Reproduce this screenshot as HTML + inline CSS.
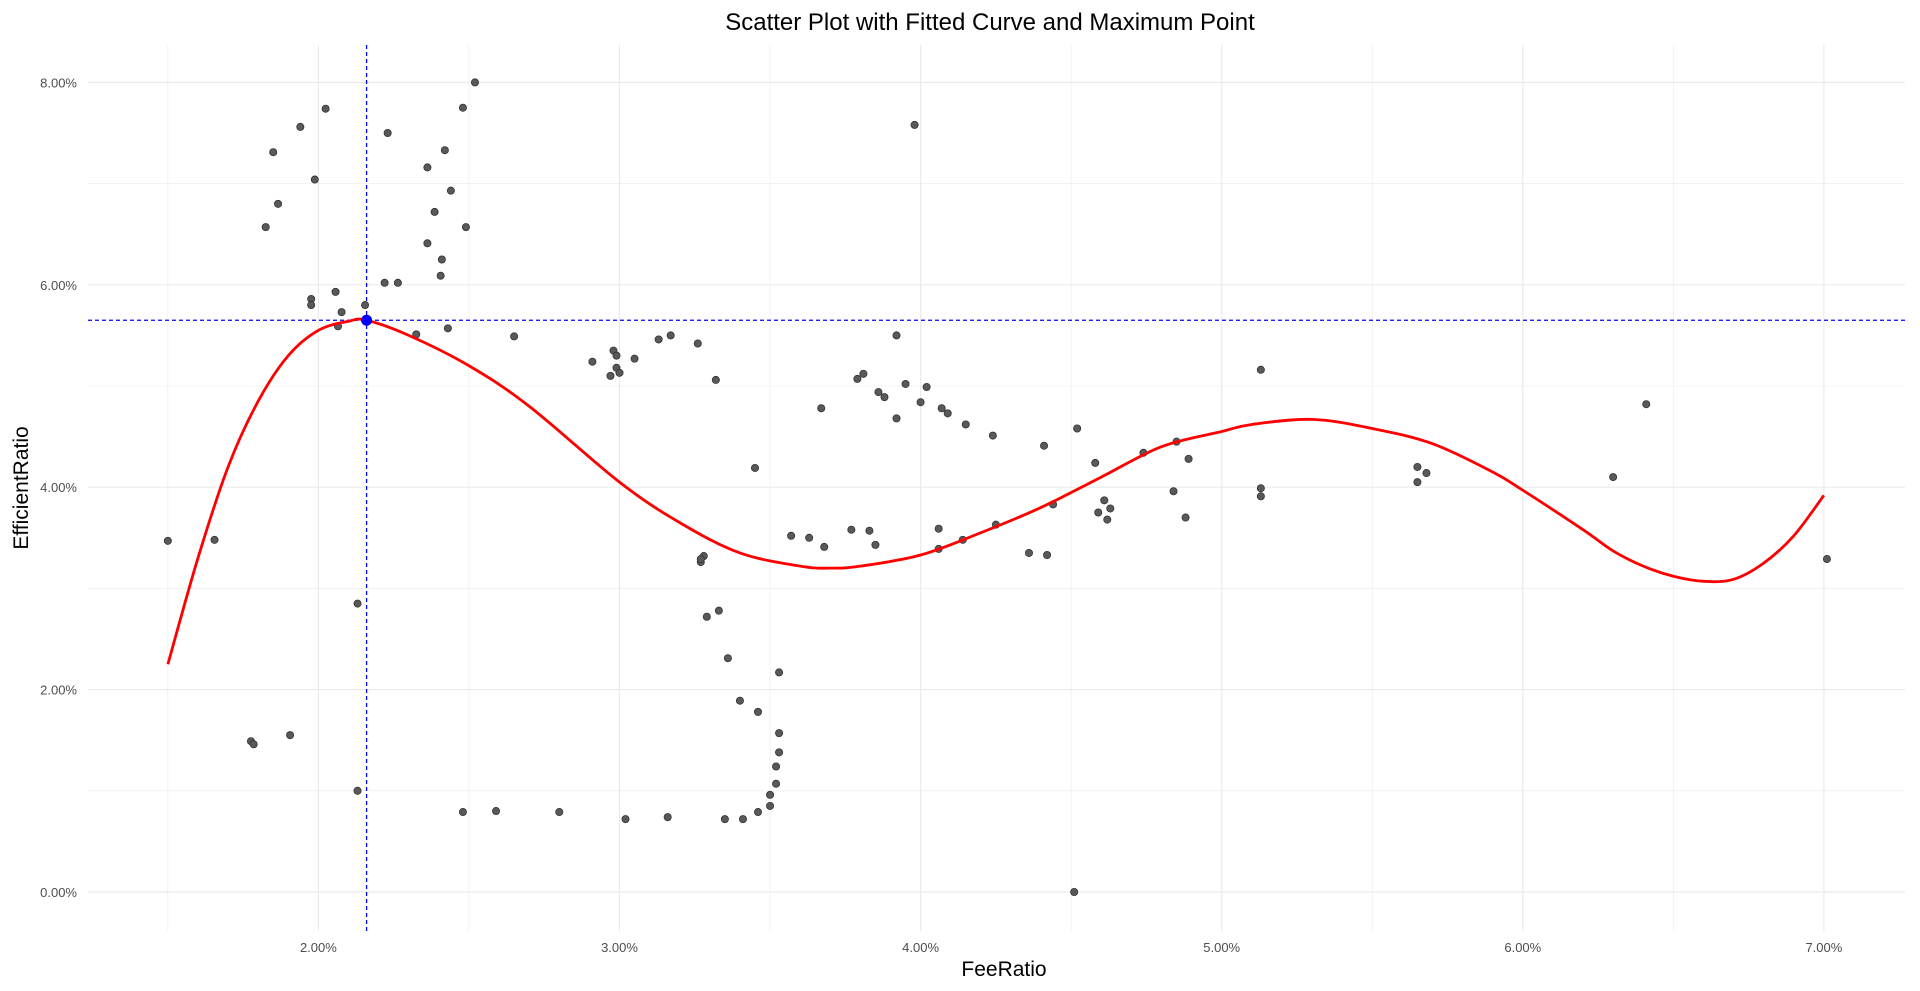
<!DOCTYPE html>
<html><head><meta charset="utf-8"><style>
html,body{margin:0;padding:0;background:#fff;width:1920px;height:991px;overflow:hidden}
svg{display:block;font-family:"Liberation Sans",sans-serif}
</style></head><body>
<svg id="chart" width="1920" height="991" viewBox="0 0 1920 991">
<text x="990" y="30" text-anchor="middle" font-size="24" fill="#000">Scatter Plot with Fitted Curve and Maximum Point</text>
<g id="grid"></g>
<g id="ticks"></g>
<g id="refs"></g>
<g id="pts"></g>
<g id="curve"></g>
<text x="1004" y="976" text-anchor="middle" font-size="21" fill="#000">FeeRatio</text>
<text x="0" y="0" transform="translate(28,488) rotate(-90)" text-anchor="middle" font-size="21" fill="#000">EfficientRatio</text>
</svg>
<script>
const xTicks=[2,3,4,5,6,7];
const yTicks=[0,2,4,6,8];
const xTickLabels=["2.00%","3.00%","4.00%","5.00%","6.00%","7.00%"];
const yTickLabels=["0.00%","2.00%","4.00%","6.00%","8.00%"];
const feeRatio=[1.50,1.655,1.776,1.785,1.906,2.13,2.13,1.825,1.85,1.866,1.94,1.988,2.024,1.976,1.976,2.057,2.077,2.065,2.155,2.22,2.264,2.23,2.325,2.362,2.362,2.386,2.42,2.44,2.41,2.406,2.43,2.48,2.52,2.49,2.65,2.48,2.59,2.80,3.02,3.16,3.35,3.41,3.46,3.50,3.50,3.52,3.52,3.53,3.53,3.53,3.46,3.40,3.36,3.33,3.29,3.27,3.28,3.27,3.45,3.32,3.26,3.13,3.17,3.05,2.91,2.97,2.99,3.00,2.98,2.99,3.57,3.63,3.68,3.67,3.77,3.83,3.85,4.06,4.06,4.14,4.25,3.79,3.81,3.86,3.88,3.92,3.92,3.95,4.00,4.02,4.07,4.09,4.15,4.24,3.98,4.36,4.42,4.41,4.44,4.52,4.51,4.58,4.59,4.61,4.63,4.62,4.74,4.84,4.85,4.88,4.89,5.13,5.13,5.13,5.65,5.65,5.68,6.30,6.41,7.01];
const efficientRatio=[3.47,3.48,1.49,1.46,1.55,2.85,1.00,6.57,7.31,6.80,7.56,7.04,7.74,5.86,5.80,5.93,5.73,5.59,5.80,6.02,6.02,7.50,5.51,7.16,6.41,6.72,7.33,6.93,6.25,6.09,5.57,7.75,8.00,6.57,5.49,0.79,0.80,0.79,0.72,0.74,0.72,0.72,0.79,0.85,0.96,1.07,1.24,1.38,1.57,2.17,1.78,1.89,2.31,2.78,2.72,3.26,3.32,3.29,4.19,5.06,5.42,5.46,5.50,5.27,5.24,5.10,5.18,5.13,5.35,5.30,3.52,3.50,3.41,4.78,3.58,3.57,3.43,3.59,3.39,3.48,3.63,5.07,5.12,4.94,4.89,5.50,4.68,5.02,4.84,4.99,4.78,4.73,4.62,4.51,7.58,3.35,3.33,4.41,3.83,4.58,0.00,4.24,3.75,3.87,3.79,3.68,4.34,3.96,4.45,3.70,4.28,5.16,3.91,3.99,4.20,4.05,4.14,4.10,4.82,3.29];
const fitX=[1.5,1.6,1.7,1.8,1.9,2.0,2.1,2.16,2.3,2.5,2.7,3.0,3.2,3.4,3.6,3.7,3.8,4.0,4.2,4.4,4.6,4.8,5.0,5.1,5.3,5.5,5.7,5.9,6.0,6.2,6.3,6.4,6.5,6.6,6.7,6.8,6.9,7.0];
const fitY=[2.25,3.3,4.2,4.85,5.3,5.55,5.64,5.65,5.5,5.2,4.8,4.05,3.65,3.35,3.22,3.20,3.22,3.33,3.55,3.8,4.1,4.4,4.55,4.62,4.67,4.58,4.43,4.15,3.97,3.58,3.37,3.22,3.12,3.07,3.09,3.25,3.52,3.92];
const maxX=[2.16];
const maxY=[5.65];

const NS="http://www.w3.org/2000/svg";
const X=v=>318.4+(v-2)*301.1;
const Y=v=>892-v*101.2;
const L=88,R=1905,T=45,B=931;
function mk(tag,parent,attrs){const e=document.createElementNS(NS,tag);for(const k in attrs)e.setAttribute(k,attrs[k]);document.getElementById(parent).appendChild(e);return e;}

for(let v=1.5;v<=7.5;v+=0.5){const full=Math.abs(v-Math.round(v))<1e-9;
 const e=mk('line','grid',{x1:X(v),x2:X(v),y1:T,y2:B,stroke:'#ebebeb','stroke-width':full?1.2:0.6});
 
 }
for(let v=-1;v<=8;v+=1){const y=Y(v);if(y>B||y<T)continue;
 const e=mk('line','grid',{x1:L,x2:R,y1:y,y2:y,stroke:'#ebebeb','stroke-width':v%2===0?1.2:0.6});
 
 }
xTicks.forEach((v,i)=>{const t=mk('text','ticks',{x:X(v),y:952,'text-anchor':'middle','font-size':13,fill:'#4d4d4d'});t.textContent=xTickLabels[i];
 
 });
yTicks.forEach((v,i)=>{const t=mk('text','ticks',{x:77,y:Y(v)+5,'text-anchor':'end','font-size':13,fill:'#4d4d4d'});t.textContent=yTickLabels[i];
 
 });
feeRatio.forEach((v,i)=>{const c=mk('circle','pts',{cx:X(v),cy:Y(efficientRatio[i]),r:3.6,fill:'#595959',stroke:'#333','stroke-width':0.8});
 
 });
let pts=fitX.map((v,i)=>[X(v),Y(fitY[i])]);
let d='M'+pts[0][0]+','+pts[0][1];
for(let i=0;i<pts.length-1;i++){const p0=pts[i-1]||pts[i],p1=pts[i],p2=pts[i+1],p3=pts[i+2]||p2;
 d+=' C'+(p1[0]+(p2[0]-p0[0])/6)+','+(p1[1]+(p2[1]-p0[1])/6)+' '+(p2[0]-(p3[0]-p1[0])/6)+','+(p2[1]-(p3[1]-p1[1])/6)+' '+p2[0]+','+p2[1];}
const cp=mk('path','curve',{d:d,fill:'none',stroke:'#ff0000','stroke-width':2.8});


const vl=mk('line','refs',{x1:X(maxX[0]),x2:X(maxX[0]),y1:T,y2:B,stroke:'#0000ff','stroke-width':1.3,'stroke-dasharray':'4,3'});


const hl=mk('line','refs',{x1:L,x2:R,y1:Y(maxY[0]),y2:Y(maxY[0]),stroke:'#0000ff','stroke-width':1.3,'stroke-dasharray':'4,3'});


const mp=mk('circle','curve',{cx:X(maxX[0]),cy:Y(maxY[0]),r:5.5,fill:'#0000ff'});


</script>
</body></html>
